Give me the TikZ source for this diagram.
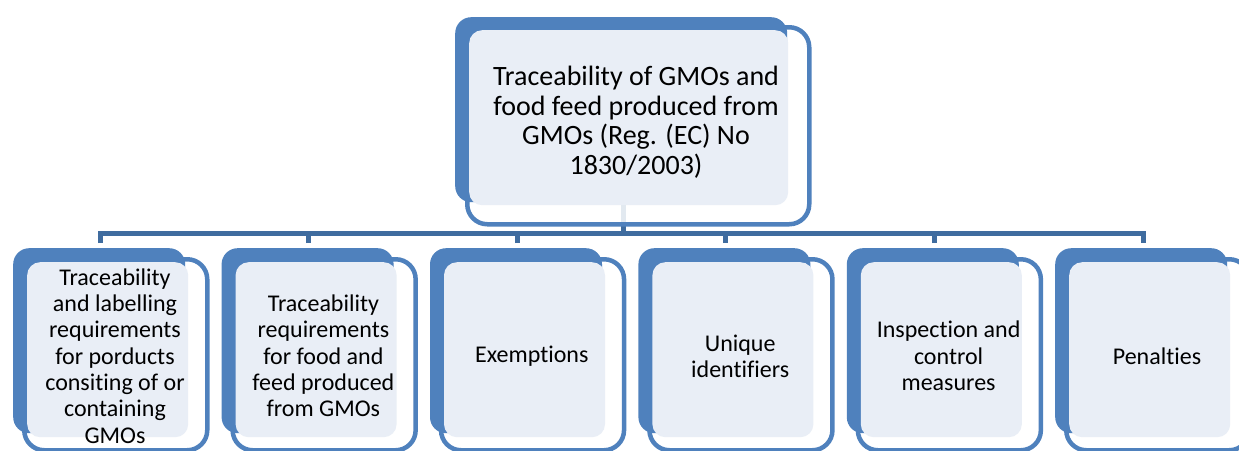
\documentclass[tikz,border=0pt]{standalone}
\usepackage{fontspec}
\setmainfont{Carlito}[Ligatures={CommonOff,ContextualOff}]
\definecolor{fillblue}{HTML}{4F81BD}
\definecolor{lightbox}{HTML}{E9EEF6}
\definecolor{connblue}{HTML}{3F6C9F}
\begin{document}
\begin{tikzpicture}[x=1pt,y=-1pt,
 outlinebox/.style={draw=fillblue,line width=4.5pt,fill=white,fill opacity=0.85,draw opacity=1,rounded corners=20pt,inner sep=0pt,anchor=north west},
 backbox/.style={fill=fillblue,rounded corners=16pt,inner sep=0pt,anchor=north west},
 frontbox/.style={fill=lightbox,rounded corners=13pt,inner sep=0pt,anchor=north west},
 connline/.style={draw=connblue,line width=5pt},
 toptext/.style={align=center,text=black,font=\fontsize{28}{29.5}\selectfont},
 subtext/.style={align=center,text=black,font=\fontsize{24}{26.3}\selectfont}]
\useasboundingbox (0,0) rectangle (1239,450);
% connectors
\coordinate (dtop) at (623,205);
\coordinate (bus) at (623,233);
\foreach \i in {0,...,5}{
  \pgfmathsetmacro\dx{100+\i*208.6}
  \coordinate (d\i) at (\dx,243);
}
\draw[connline] (dtop) -- (bus);
\draw[connline] (d0) |- (bus) -| (d5);
\foreach \i in {1,...,4}{
  \draw[connline] (d\i) -- (d\i |- bus);
}
% top box
\node[outlinebox,minimum width=342,minimum height=197] (otop) at (465,25) {};
\node[backbox,minimum width=332,minimum height=185] (btop) at (455,17) {};
\node[frontbox,minimum width=319,minimum height=175] (ftop) at (469,30) {};
\node[toptext] (ttop) at (636,122) {Traceability of GMOs and\\food feed produced from\\GMOs (Reg. (EC) No\\1830/2003)};
% bottom boxes
\foreach \i/\txt in {0/{Traceability\\and labelling\\requirements\\for porducts\\consiting of or\\containing\\GMOs},
 1/{Traceability\\requirements\\for food and\\feed produced\\from GMOs},
 2/{Exemptions},
 3/{Unique\\identifiers},
 4/{Inspection and\\control\\measures},
 5/{Penalties}}{
  \pgfmathsetmacro\dx{\i*208.4}
  \node[outlinebox,minimum width=183,minimum height=191] (o\i) at (22+\dx,257) {};
  \node[backbox,minimum width=172,minimum height=185] (b\i) at (13+\dx,248) {};
  \node[frontbox,minimum width=161,minimum height=175] (f\i) at (27+\dx,262) {};
  \node[subtext] (t\i) at (115+\dx,356) {\txt};
}
\end{tikzpicture}
\end{document}
